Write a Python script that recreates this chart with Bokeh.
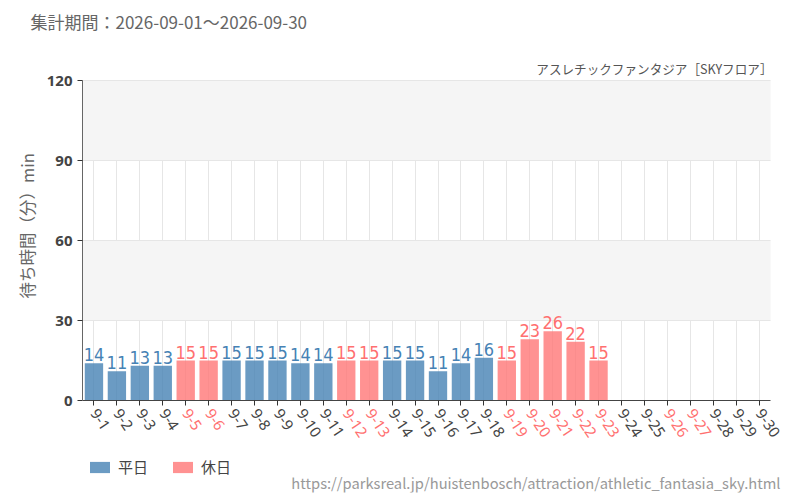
import math

from bokeh.core.properties import value
from bokeh.embed import file_html
from bokeh.models import (ColumnDataSource, FactorRange, FixedTicker, Label, Legend,
                          LegendItem, Range1d, Title)
from bokeh.plotting import figure
from bokeh.resources import INLINE

# Data
days = ["9-%d" % d for d in range(1, 31)]
waits = [14, 11, 13, 13, 15, 15, 15, 15, 15, 14, 14, 15, 15, 15, 15, 11,
         14, 16, 15, 23, 26, 22, 15]
holidays = ["9-5", "9-6", "9-12", "9-13", "9-19", "9-20", "9-21", "9-22",
            "9-23", "9-26", "9-27"]
y_ticks = [0, 30, 60, 90, 120]

title_text = "集計期間：2026-09-01～2026-09-30"
subtitle_text = "アスレチックファンタジア［SKYフロア］"
y_label = "待ち時間（分）min"
url_text = "https://parksreal.jp/huistenbosch/attraction/athletic_fantasia_sky.html"

# Colors / fonts
weekday_color = "#4682b4"
holiday_color = "#ff7777"
holiday_text = "#ff7070"
tick_text = "#444444"
jp_font = "Noto Sans CJK JP"
num_font = "DejaVu Sans Condensed"

wk = dict(day=[], wait=[], label=[])
hd = dict(day=[], wait=[], label=[])
for d, w in zip(days, waits):
    target = hd if d in holidays else wk
    target["day"].append(d)
    target["wait"].append(w)
    target["label"].append(str(w))
wk_src = ColumnDataSource(wk)
hd_src = ColumnDataSource(hd)

tick_src = ColumnDataSource(dict(
    day=days,
    base=[0] * len(days),
    color=[holiday_text if d in holidays else tick_text for d in days],
))

# one empty slot on the right and an extended y range give the frame room
# for the slanted day labels, the legend, the subtitle and the source line
x_range = FactorRange(factors=days + [" "])
n_days = len(days)
p = figure(x_range=x_range, y_range=Range1d(-34.5, 135), title=None,
           frame_width=711, frame_height=452,
           min_border_left=82, min_border_right=0,
           min_border_top=40, min_border_bottom=8,
           output_backend="svg", toolbar_location=None, tools="")
p.outline_line_color = None
p.background_fill_color = "white"

# grid
p.xgrid.grid_line_color = "#e6e6e6"
p.ygrid.grid_line_color = "#e6e6e6"
p.ygrid.ticker = FixedTicker(ticks=y_ticks[1:])
p.ygrid.band_fill_color = "#f5f5f5"
p.ygrid.band_fill_alpha = 1.0
if "cross_bounds" in p.xgrid[0].properties():
    p.xgrid.cross_bounds = (y_ticks[0], y_ticks[-1])
    p.ygrid.cross_bounds = (0, n_days)
else:
    p.xgrid.grid_line_color = None
    p.segment(x0=days, y0=[y_ticks[0]] * n_days, x1=days, y1=[y_ticks[-1]] * n_days,
              line_color="#e6e6e6", line_width=1, level="underlay")

# axes
p.yaxis.ticker = y_ticks
p.yaxis.bounds = (y_ticks[0], y_ticks[-1])
p.yaxis.axis_line_color = "#666666"
p.yaxis.major_tick_line_color = "#333333"
p.yaxis.major_tick_in = 0
p.yaxis.major_tick_out = 5
p.yaxis.minor_tick_line_color = None
p.yaxis.major_label_text_font = "Noto Sans"
p.yaxis.major_label_text_font_size = "15px"
p.yaxis.major_label_text_font_style = "bold"
p.yaxis.major_label_text_color = "#444444"

p.xaxis.fixed_location = 0
p.xaxis.bounds = (0, n_days)
p.xaxis.axis_line_color = "#444444"
p.xaxis.major_tick_line_color = "#333333"
p.xaxis.major_tick_in = 0
p.xaxis.major_tick_out = 5
p.xaxis.major_label_standoff = 0
p.xaxis.major_label_text_font_size = "1px"
p.xaxis.major_label_text_color = None

# bars
wk_bars = p.vbar(x="day", top="wait", width=0.8, source=wk_src,
                 fill_color=weekday_color, fill_alpha=0.8, line_color=None)
hd_bars = p.vbar(x="day", top="wait", width=0.8, source=hd_src,
                 fill_color=holiday_color, fill_alpha=0.8, line_color=None)

# value labels
for src, col in ((wk_src, weekday_color), (hd_src, holiday_text)):
    p.text(x="day", y="wait", text="label", source=src,
           text_align="center", text_baseline="bottom", y_offset=-2,
           text_font=value(num_font), text_font_size="18px",
           text_color=col)

# day labels, colored by day type
p.text(x="day", y="base", text="day", source=tick_src,
       angle=-math.radians(56), text_align="left", text_baseline="middle",
       x_offset=0, y_offset=10,
       text_font=value("Noto Sans"), text_font_size="15px",
       text_color="color")

# legend
legend = Legend(items=[LegendItem(label="平日", renderers=[wk_bars]),
                       LegendItem(label="休日", renderers=[hd_bars])],
                orientation="horizontal", location=(5, 15), margin=0, padding=0,
                glyph_width=25, glyph_height=14, spacing=22, label_standoff=6,
                label_text_font=jp_font, label_text_font_size="15px",
                label_text_color="#444444", border_line_color=None,
                background_fill_alpha=0)
p.add_layout(legend, "center")

# subtitle and source line (screen units from the frame's bottom-left)
p.add_layout(Label(x=690, y=424, x_units="screen", y_units="screen",
                   text=subtitle_text, text_font=jp_font, text_font_size="12.6px",
                   text_color="#555555", text_align="right", text_baseline="middle"))
p.add_layout(Label(x=698, y=10, x_units="screen", y_units="screen",
                   text=url_text, text_font=jp_font, text_font_size="14.7px",
                   text_color="#999999", text_align="right", text_baseline="middle"))

# title and y axis title
p.add_layout(Title(text=title_text, align="left", offset=-52, standoff=13,
                   text_font=jp_font, text_font_size="17px",
                   text_font_style="normal", text_color="#666666"), "above")
p.add_layout(Title(text=y_label, align="left", offset=194, standoff=9,
                   text_font=jp_font, text_font_size="16.5px",
                   text_font_style="normal", text_color="#666666"), "left")

open("out.html", "w").write(file_html(p, INLINE))
